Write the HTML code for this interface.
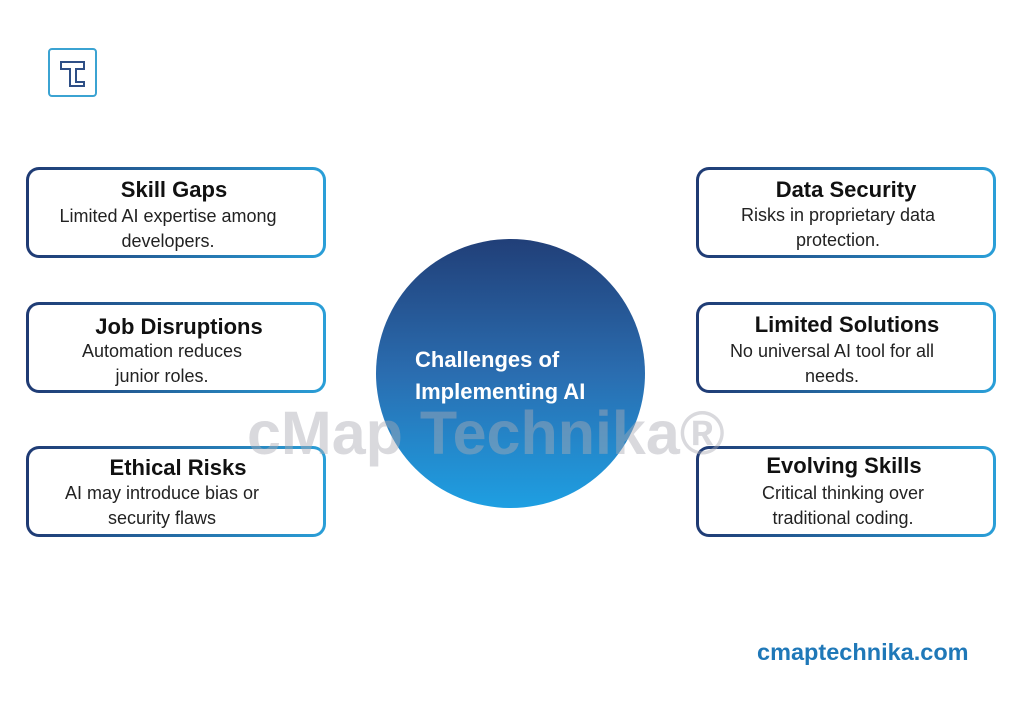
<!DOCTYPE html>
<html><head><meta charset="utf-8"><style>
body{margin:0;width:1024px;height:707px;background:#fff;position:relative;overflow:hidden;font-family:"Liberation Sans",sans-serif}
.box{position:absolute;width:300px;height:91px;border-radius:13px;padding:3px;box-sizing:border-box;background:linear-gradient(90deg,#1f3a73,#2a9fd8)}
.box div{width:100%;height:100%;background:#fff;border-radius:10px}
.t{position:absolute;width:400px;text-align:center;height:26px;line-height:26px;white-space:nowrap;color:#111}
.h{font-weight:bold;font-size:22px}
.b{font-size:18px;color:#222}
</style></head><body>
<div style="position:absolute;left:48px;top:48px;width:49px;height:49px;border:2px solid #3ba3d2;border-radius:4px;box-sizing:border-box"></div>
<svg style="position:absolute;left:59px;top:59px" width="28" height="28"><path d="M2 3H25V10H17V23H25V27H11V10H2Z" fill="none" stroke="#2e4f86" stroke-width="2"/></svg>

<div class="box" style="left:26px;top:167px"><div></div></div>
<div class="box" style="left:26px;top:302px"><div></div></div>
<div class="box" style="left:26px;top:446px"><div></div></div>
<div class="box" style="left:696px;top:167px"><div></div></div>
<div class="box" style="left:696px;top:302px"><div></div></div>
<div class="box" style="left:696px;top:446px"><div></div></div>

<div style="position:absolute;left:376px;top:239px;width:269px;height:269px;border-radius:50%;background:linear-gradient(180deg,#213f78,#2a6db0 50%,#1e9fe2)"></div>
<div class="t" style="left:294px;top:344px;width:400px;color:#fff;font-weight:bold;font-size:22px;line-height:32px;height:64px;text-align:left;padding-left:121px;box-sizing:border-box">Challenges of<br>Implementing AI</div>

<div style="position:absolute;left:247px;top:398px;font-size:61px;font-weight:bold;color:rgba(170,170,180,0.45);white-space:nowrap">cMap Technika®</div>

<div class="t h" style="left:-26px;top:177px">Skill Gaps</div>
<div class="t b" style="left:-32px;top:203px">Limited AI expertise among</div>
<div class="t b" style="left:-32px;top:228px">developers.</div>
<div class="t h" style="left:-21px;top:314px">Job Disruptions</div>
<div class="t b" style="left:-38px;top:338px">Automation reduces</div>
<div class="t b" style="left:-38px;top:363px">junior roles.</div>
<div class="t h" style="left:-22px;top:455px">Ethical Risks</div>
<div class="t b" style="left:-38px;top:480px">AI may introduce bias or</div>
<div class="t b" style="left:-38px;top:505px">security flaws</div>

<div class="t h" style="left:646px;top:177px">Data Security</div>
<div class="t b" style="left:638px;top:202px">Risks in proprietary data</div>
<div class="t b" style="left:638px;top:227px">protection.</div>
<div class="t h" style="left:647px;top:312px">Limited Solutions</div>
<div class="t b" style="left:632px;top:338px">No universal AI tool for all</div>
<div class="t b" style="left:632px;top:363px">needs.</div>
<div class="t h" style="left:644px;top:453px">Evolving Skills</div>
<div class="t b" style="left:643px;top:480px">Critical thinking over</div>
<div class="t b" style="left:643px;top:505px">traditional coding.</div>

<div style="position:absolute;left:757px;top:639px;font-size:23.5px;font-weight:bold;color:#1f78b8">cmaptechnika.com</div>
</body></html>
